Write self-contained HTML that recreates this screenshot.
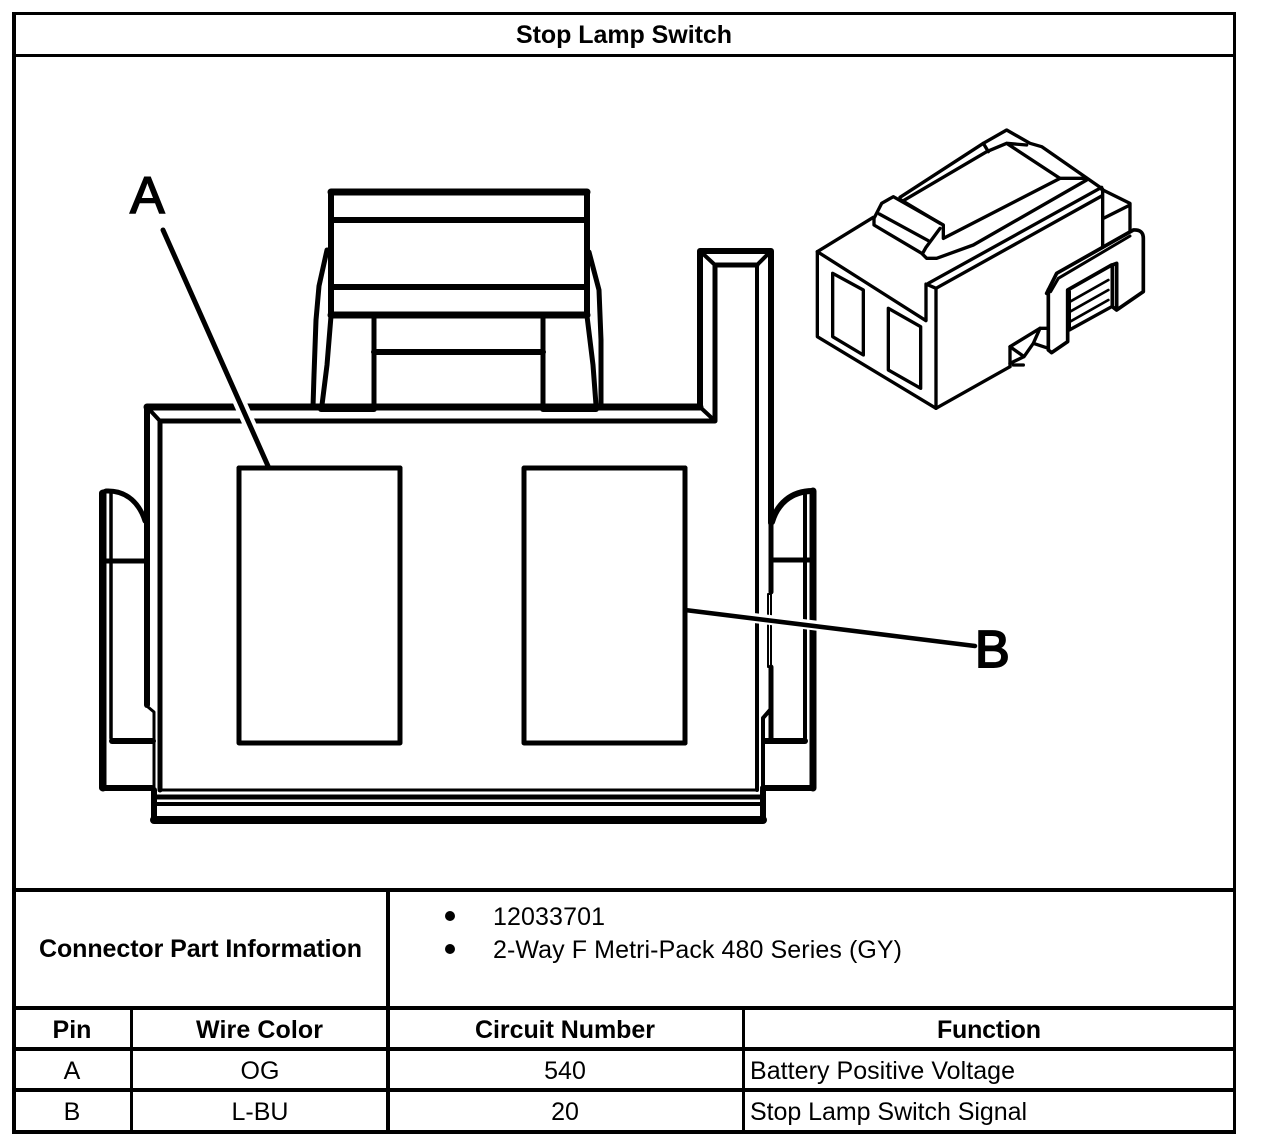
<!DOCTYPE html>
<html><head><meta charset="utf-8"><style>
html,body{margin:0;padding:0;background:#fff;width:1264px;height:1148px;overflow:hidden}
svg{display:block}
text{font-family:"Liberation Sans",sans-serif;font-size:25px;fill:#000}
.b{font-weight:bold}
.m{text-anchor:middle}
.t{fill:none;stroke:#000;stroke-linejoin:round;stroke-linecap:round}
</style></head><body>
<svg width="1264" height="1148" viewBox="0 0 1264 1148">
<rect width="1264" height="1148" fill="#fff"/>

<!-- table frame -->
<g fill="#000">
<rect x="12" y="12" width="1224" height="3"/>
<rect x="12" y="1130" width="1224" height="4"/>
<rect x="12" y="12" width="4" height="1122"/>
<rect x="1233" y="12" width="3" height="1122"/>
<rect x="12" y="54" width="1224" height="3"/>
<rect x="12" y="888" width="1224" height="4"/>
<rect x="12" y="1006" width="1224" height="4"/>
<rect x="12" y="1047" width="1224" height="4"/>
<rect x="12" y="1088" width="1224" height="4"/>
<rect x="386" y="888" width="4" height="244"/>
<rect x="130" y="1006" width="3" height="126"/>
<rect x="742" y="1006" width="3" height="126"/>
</g>

<text class="b" x="516" y="43" textLength="216">Stop Lamp Switch</text>
<text class="b" x="39" y="957" textLength="323">Connector Part Information</text>
<circle cx="450" cy="916" r="5"/>
<circle cx="450" cy="949" r="5"/>
<text x="493" y="925" textLength="112">12033701</text>
<text x="493" y="958" textLength="409">2-Way F Metri-Pack 480 Series (GY)</text>
<text class="b m" x="72" y="1038">Pin</text>
<text class="b" x="196" y="1038" textLength="127">Wire Color</text>
<text class="b" x="475" y="1038" textLength="180">Circuit Number</text>
<text class="b" x="937" y="1038" textLength="104">Function</text>
<text class="m" x="72" y="1079">A</text>
<text class="m" x="260" y="1079">OG</text>
<text class="m" x="565" y="1079">540</text>
<text x="750" y="1079" textLength="265">Battery Positive Voltage</text>
<text class="m" x="72" y="1120">B</text>
<text class="m" x="260" y="1120">L-BU</text>
<text class="m" x="565" y="1120">20</text>
<text x="750" y="1120" textLength="277">Stop Lamp Switch Signal</text>

<!-- main connector: top latch -->
<g class="t" stroke-width="5">
<path stroke-width="7" d="M331 192H587"/>
<path stroke-width="6" d="M331 192V315M587 192V315"/>
<path stroke-width="6" d="M331 220H586M331 287H586"/>
<path stroke-width="7" d="M331 315H587"/>
<path stroke-width="5" d="M374 315V408M543 315V408"/>
<path stroke-width="6" d="M374 352H543"/>
<path d="M327 250L319 286L316 320L314 375L313 407"/>
<path d="M331 316L327 365L322 405"/>
<path d="M589 252L599 290L601 340L601 407"/>
<path d="M587 316L593 365L596 405"/>
<path stroke-width="6" d="M321 409H374M543 409H596"/>
</g>

<!-- body -->
<g class="t" stroke-width="6">
<path stroke-width="7" d="M147 407H700"/>
<path stroke-width="6" d="M700 407V251H771V523"/>
<path d="M147 407V705" stroke-width="6"/>
<path d="M160 421H715V265H757" stroke-width="5"/>
<path d="M160 421V790" stroke-width="5"/>
<path d="M147 407L160 421M700 407L715 421M700 251L715 265M771 251L757 265" stroke-width="4"/>
<path d="M148 707L154 712V790" stroke-width="3"/>
<path d="M757 265V790" stroke-width="4"/>
<path d="M771 523V592" stroke-width="5"/>
<path d="M768 594V667H771V594Z" stroke-width="2"/>
<path d="M771 667V741" stroke-width="5"/>
<path d="M770 710L763 718V790" stroke-width="4"/>

<!-- windows -->
<rect x="239" y="468" width="161" height="275" stroke-width="5"/>
<rect x="524" y="468" width="161" height="275" stroke-width="5"/>

<!-- left ear -->
<path d="M145 521C140 505 128 490 106 491Q102 492 102 497" stroke-width="5"/>
<path d="M102 493V788H152" stroke-width="6"/>
<path d="M103 493V788" stroke-width="7"/>
<path d="M111 493V738" stroke-width="3.5"/>
<path d="M112 741H153" stroke-width="6"/>
<path d="M104 561H145" stroke-width="5"/>
<!-- right ear -->
<path d="M772 522C777 505 790 491 813 491" stroke-width="6"/>
<path d="M813 491V788H763" stroke-width="6"/>
<path d="M813 491V788" stroke-width="7"/>
<path d="M805 495V738" stroke-width="4"/>
<path d="M765 741H805" stroke-width="6"/>
<path d="M772 560H812" stroke-width="5"/>

<!-- bottom rails -->
<path d="M160 790H757" stroke-width="3"/>
<path d="M154 797H762" stroke-width="5"/>
<path d="M154 804H762" stroke-width="4"/>
<path d="M154 790V820H763V790" stroke-width="6"/>
<path d="M154 820H763" stroke-width="8"/>
</g>

<!-- leaders -->
<path d="M163 230L268 466" fill="none" stroke="#fff" stroke-width="13"/>
<path d="M163 230L268 466" class="t" stroke-width="5"/>
<path d="M688 610L975 645" fill="none" stroke="#fff" stroke-width="10"/>
<path d="M685 610L975 646" class="t" stroke-width="4.5"/>
<path d="M685 468V743" class="t" stroke-width="5"/>
<path d="M239 468H400" class="t" stroke-width="5"/>
<text x="130" y="213" style="font-size:52px;stroke:#000;stroke-width:1.5">A</text>
<text x="975" y="667" style="font-size:52px;stroke:#000;stroke-width:2">B</text>

<!-- isometric connector -->
<g transform="translate(800 110) scale(.33333)" class="t" stroke-width="10">
<path d="M52 425L220 322M52 425V680L408 895L630 770"/>
<path d="M52 425L378 632V522L408 535V895"/>
<path d="M385 520L905 232M408 535L905 258"/>
<path d="M908 238V412M905 238L990 280V365M910 325L990 285"/>
<path d="M98 490L190 540V735L98 680Z"/>
<path d="M265 595L362 650V835L265 780Z"/>
<path d="M300 262L550 100L620 60L690 100L725 110L905 235"/>
<path d="M310 272L560 125L620 100L680 105M620 100L780 205L860 205M550 100L565 125"/>
<path d="M780 205L430 385V345L280 260L245 280L222 325V345L365 430L380 445H410L520 405L860 210"/>
<path d="M238 312L385 392M420 355L378 412L368 430M300 268L420 340"/>
<path d="M740 550L770 490L1000 360Q1030 358 1030 385V545L950 600L937 590V465L950 460V590" stroke-width="11"/>
<path d="M752 545L775 505L990 378" stroke-width="9"/>
<path d="M745 540V720L755 728L803 695V540L935 465" stroke-width="11"/>
<path d="M808 545V660L935 590"/>
<path d="M810 575L925 510M810 605L925 540M810 635L925 570" stroke-width="8"/>
<path d="M630 770V710L720 655H745V720"/>
<path d="M630 710L672 740L630 760M672 740L700 700L720 655M700 700L745 715M640 765H670"/>
</g>
</svg>
</body></html>
